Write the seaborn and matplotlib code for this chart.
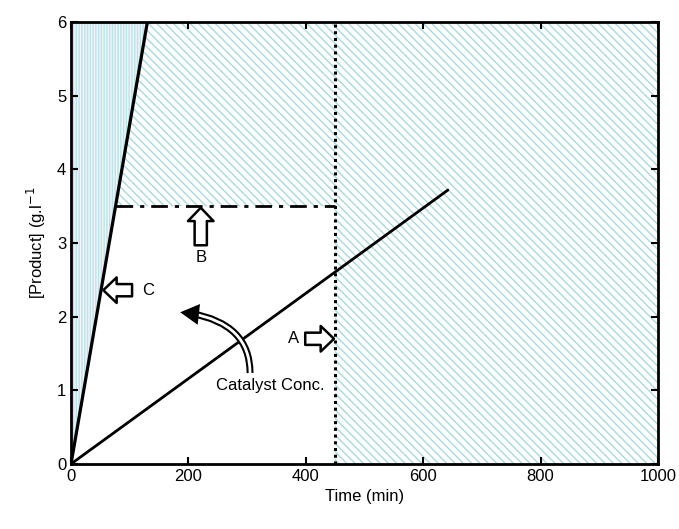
import matplotlib
matplotlib.use("Agg")
import matplotlib.pyplot as plt
import seaborn as sns
import numpy as np
import pandas as pd
from matplotlib.patches import FancyArrowPatch

# ---- data ----
line_c_time = [0, 130]
line_c_prod = [0, 6.0]
line_a_time = [0, 642]
line_a_prod = [0, 3.72]
limit_b_prod = 3.5
limit_a_time = 450
x_ticks = [0, 200, 400, 600, 800, 1000]
y_ticks = [0, 1, 2, 3, 4, 5, 6]

sns.set_theme(style="white")
plt.rcParams['font.family'] = ['Liberation Sans', 'DejaVu Sans']
plt.rcParams['hatch.linewidth'] = 1.0
plt.rcParams['text.color'] = 'black'
plt.rcParams['axes.labelcolor'] = 'black'
plt.rcParams['xtick.color'] = 'black'
plt.rcParams['ytick.color'] = 'black'

fig = plt.figure(figsize=(6.79, 5.29), dpi=100)
ax = fig.add_axes([0.1046, 0.123, 0.8645, 0.835])

slope_c = line_c_prod[1] / line_c_time[1]

# hatched regions
yy = np.linspace(0, 6, 50)
ax.fill_betweenx(yy, 0, yy / slope_c, facecolor='#eef7fa', edgecolor='#bfe1ea',
                 hatch='||||||', linewidth=0, zorder=0)
yy2 = np.linspace(limit_b_prod, 6, 50)
ax.fill_betweenx(yy2, yy2 / slope_c, limit_a_time, facecolor='white', edgecolor='#a9d9d9',
                 hatch='\\\\\\\\', linewidth=0, zorder=0)
ax.fill_betweenx([0, 6], limit_a_time, 1000, facecolor='white', edgecolor='#a9d9d9',
                 hatch='\\\\\\\\', linewidth=0, zorder=0)

df_c = pd.DataFrame({'t': line_c_time, 'p': line_c_prod})
df_a = pd.DataFrame({'t': line_a_time, 'p': line_a_prod})
sns.lineplot(data=df_c, x='t', y='p', ax=ax, color='black', lw=2.3, zorder=3)
sns.lineplot(data=df_a, x='t', y='p', ax=ax, color='black', lw=2.0, zorder=3)

# dash-dot limit B
ax.plot([limit_b_prod / slope_c, limit_a_time], [limit_b_prod, limit_b_prod],
        color='black', lw=2.0, linestyle=(0, (6, 2.5, 1.5, 2.5)), zorder=3)
# dotted limit A
ax.plot([limit_a_time, limit_a_time], [0, 6], color='black', lw=2.2,
        linestyle=(0, (1, 1.2)), zorder=3)

# hollow arrows
def hollow(x0, y0, x1, y1):
    a = FancyArrowPatch((x0, y0), (x1, y1),
                        arrowstyle='simple,head_length=0.6,head_width=1.15,tail_width=0.55',
                        mutation_scale=16, facecolor='white', edgecolor='black', lw=1.8,
                        shrinkA=0, shrinkB=0, zorder=4)
    ax.add_patch(a)

hollow(221, 2.97, 221, 3.48)
hollow(104, 2.36, 55, 2.36)
hollow(399, 1.70, 448, 1.70)

ax.text(221, 2.9, 'B', ha='center', va='top', fontsize=12)
ax.text(121, 2.36, 'C', ha='left', va='center', fontsize=12)
ax.text(388, 1.70, 'A', ha='right', va='center', fontsize=12)

# curved double-line arrow
start = (305, 1.235)
tip = (186, 2.06)
for lw, col in [(5.0, 'black'), (2.0, 'white')]:
    ax.add_patch(FancyArrowPatch(start, (tip[0] + 18, tip[1] - 0.015),
                                 connectionstyle='angle3,angleA=90,angleB=-10',
                                 arrowstyle='-', lw=lw, color=col, shrinkA=0, shrinkB=0,
                                 capstyle='butt', zorder=4 if col == 'black' else 4.5))
ax.add_patch(FancyArrowPatch((tip[0] + 22, tip[1] - 0.02), tip,
                             arrowstyle='-|>,head_length=0.9,head_width=0.5',
                             mutation_scale=15, lw=0, color='black',
                             shrinkA=0, shrinkB=0, zorder=5))
ax.text(340, 1.07, 'Catalyst Conc.', ha='center', va='center', fontsize=12)

ax.set_xlim(0, 1000)
ax.set_ylim(0, 6)
ax.set_xticks(x_ticks)
ax.set_yticks(y_ticks)
ax.tick_params(direction='in', length=5, width=1.5, labelsize=12,
               top=True, right=True, bottom=True, left=True, colors='black')
for s in ax.spines.values():
    s.set_linewidth(2)
    s.set_color('black')
ax.set_xlabel('Time (min)', fontsize=12)
ax.set_ylabel('[Product] (g.l$^{-1}$', fontsize=12, labelpad=6)

fig.savefig('out.png', dpi=100)
